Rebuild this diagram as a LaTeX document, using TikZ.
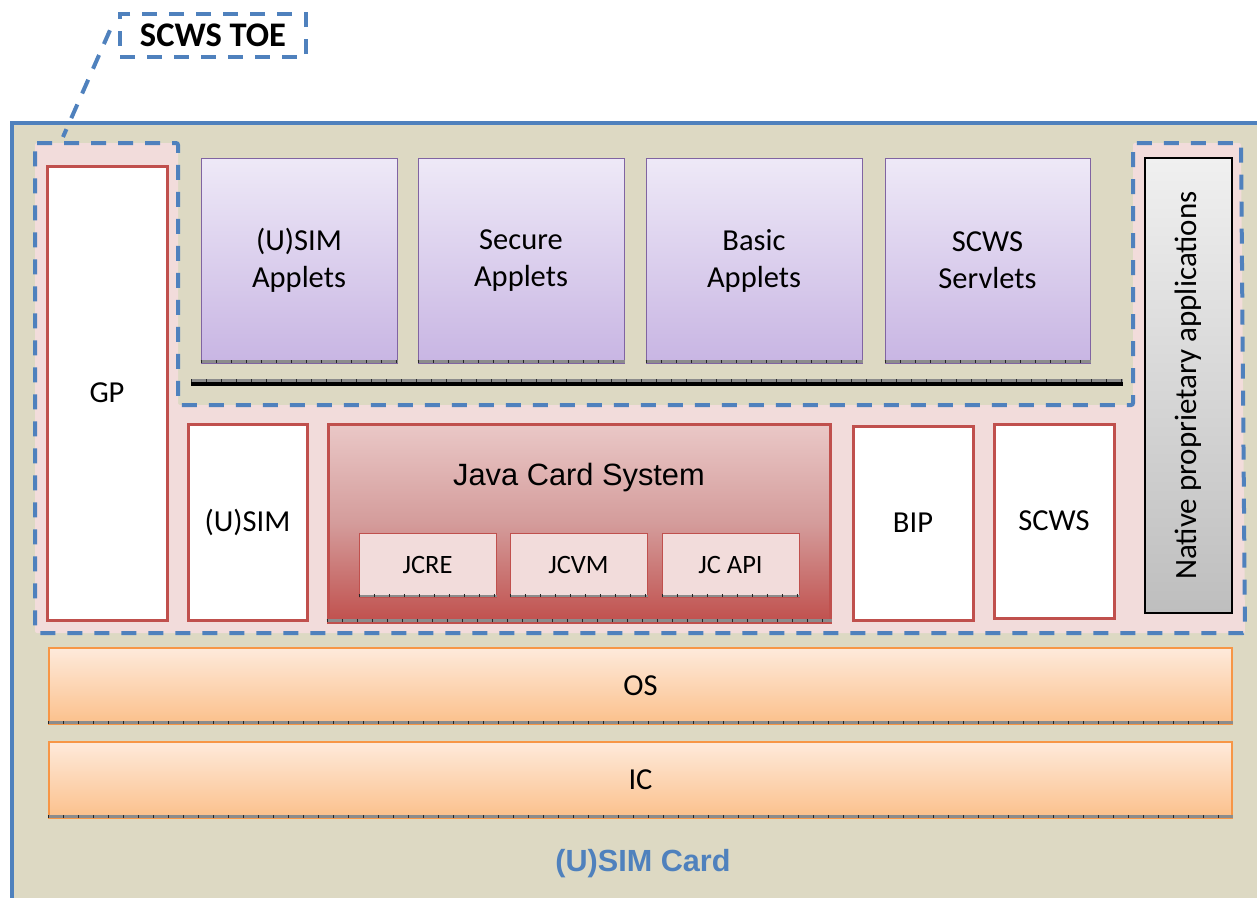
\documentclass[tikz,border=0pt]{standalone}
\usepackage{fontspec}
\setmainfont{Carlito}
\newfontfamily\arialfont{Liberation Sans}
\usepackage{xcolor}
\usetikzlibrary{positioning}

\definecolor{cardbg}{HTML}{DDD9C3}
\definecolor{toepink}{HTML}{F2DCDB}
\definecolor{toeblue}{HTML}{4F81BD}
\definecolor{partred}{HTML}{C0504D}
\definecolor{appline}{HTML}{8064A2}
\definecolor{apptop}{HTML}{EEE9F7}
\definecolor{appbot}{HTML}{C8B5E3}
\definecolor{layline}{HTML}{F79646}
\definecolor{laytop}{HTML}{FEEADB}
\definecolor{laybot}{HTML}{FBC08B}
\definecolor{jcstop}{HTML}{EAC8C7}
\definecolor{jcsmid}{HTML}{D49C9B}
\definecolor{nattop}{HTML}{F0F0F0}
\definecolor{natbot}{HTML}{BEBEBE}

\tikzset{
  labelfont/.style={font=\fontsize{30.5}{37}\selectfont},
  partbox/.style={draw=partred, line width=3pt, fill=white, labelfont},
  appbox/.style={draw=appline, line width=1pt, top color=apptop, bottom color=appbot,
    minimum height=205pt, align=center, labelfont},
  layerbox/.style={draw=layline, line width=1.5pt, top color=laytop, bottom color=laybot,
    minimum width=1183pt, minimum height=76pt, labelfont},
  jcpart/.style={draw=partred, line width=1pt, fill=toepink, minimum width=137pt,
    minimum height=64pt, font=\fontsize{26.5}{30}\selectfont},
  tickbar/.style={draw=black!45, line width=3pt,
    postaction={draw=black!85, line width=3pt, dash pattern=on 1pt off 14pt}},
  toedash/.style={draw=toeblue, line width=4pt, dash pattern=on 15pt off 12pt}
}

\begin{document}
\begin{tikzpicture}[x=1pt,y=1pt,yscale=-1,xscale=1]
\useasboundingbox (0,0) rectangle (1257,897);
\clip (0,0) rectangle (1257,897);

%Shape: card
\draw [draw=toeblue, line width=4pt, fill=cardbg] (12,122.5) rectangle (1300,940);

%Shape: TOE area
\path [fill=toepink, toedash, rounded corners=2pt]
  (35,143) -- (178,143) -- (178,405) -- (1133,405) -- (1133,143) -- (1241,143)
  -- (1245,633) -- (35,633) -- cycle;

%Applets
\node [appbox, minimum width=196pt] (usimapp) at (299,260.5) {(U)SIM\\Applets};
\node [appbox, minimum width=206pt] (secapp) at (521,260.5) {Secure\\Applets};
\node [appbox, minimum width=216pt] (basicapp) at (754,260.5) {Basic\\Applets};
\node [appbox, minimum width=205pt] (servlets) at (987.5,260.5) {SCWS\\Servlets};
\foreach \app in {usimapp,secapp,basicapp,servlets}
  \draw [tickbar] ([yshift=-2pt]\app.south west) -- ([yshift=-2pt]\app.south east);

%Straight Lines: API bar
\coordinate (barL) at (191,384);
\coordinate (barR) at (1123,384);
\draw [tickbar] ([yshift=-4pt]barL) -- ([yshift=-4pt]barR);
\draw [line width=4pt] (barL) -- (barR);

%Platform parts
\node [partbox, minimum width=120pt, minimum height=454pt] (gp) at (107,393) {GP};
\node [partbox, minimum width=119pt, minimum height=196pt] (usim) at (247.5,522) {(U)SIM};
\node [partbox, minimum width=120pt, minimum height=194pt] (bip) at (913,523) {BIP};
\node [partbox, minimum width=120pt, minimum height=194pt] (scws) at (1054,521) {SCWS};

%Java Card System
\node [draw=partred, line width=3pt, top color=jcstop, bottom color=partred, middle color=jcsmid,
  minimum width=502pt, minimum height=198pt] (jcs) at (579,523) {};
\draw [tickbar] ([yshift=-3pt]jcs.south west) -- ([yshift=-3pt]jcs.south east);
\node [font=\arialfont\fontsize{30.8}{34}\selectfont] (jcstitle) at (579,478) {Java Card System};
\node [jcpart] (jcre) at (427.5,565) {JCRE};
\node [jcpart] (jcvm) at (578.5,565) {JCVM};
\node [jcpart] (jcapi) at (730.5,565) {JC API};
\foreach \jc in {jcre,jcvm,jcapi}
  \draw [tickbar, line width=2pt] ([yshift=-2pt]\jc.south west) -- ([yshift=-2pt]\jc.south east);

%Native applications
\node [draw=black, line width=2.5pt, top color=nattop, bottom color=natbot,
  minimum width=87pt, minimum height=455pt] (native) at (1188.5,385.5) {};
\node [rotate=90, font=\fontsize{31}{37}\selectfont] (nativetext) at (native.center) {Native proprietary applications};

%Layers
\node [layerbox] (os) at (640.5,686) {OS};
\node [layerbox] (ic) at (640.5,780) {IC};
\draw [tickbar] ([yshift=-2pt]os.south west) -- ([yshift=-2pt]os.south east);
\draw [tickbar] ([yshift=-2pt]ic.south west) -- ([yshift=-2pt]ic.south east);

% Text Node
\node [font=\arialfont\bfseries\fontsize{30.6}{34}\selectfont, text=toeblue] (cardtitle) at (643,864) {(U)SIM Card};

% TOE label
\node [toedash, fill=white, minimum width=186pt, minimum height=43pt,
  font=\bfseries\fontsize{34.5}{38}\selectfont] (toe) at (213,35.5) {SCWS TOE};
\coordinate (toetip) at (63,137);
\draw [toedash, shorten <=20pt] (toe.north west) -- (toetip);

\end{tikzpicture}
\end{document}
